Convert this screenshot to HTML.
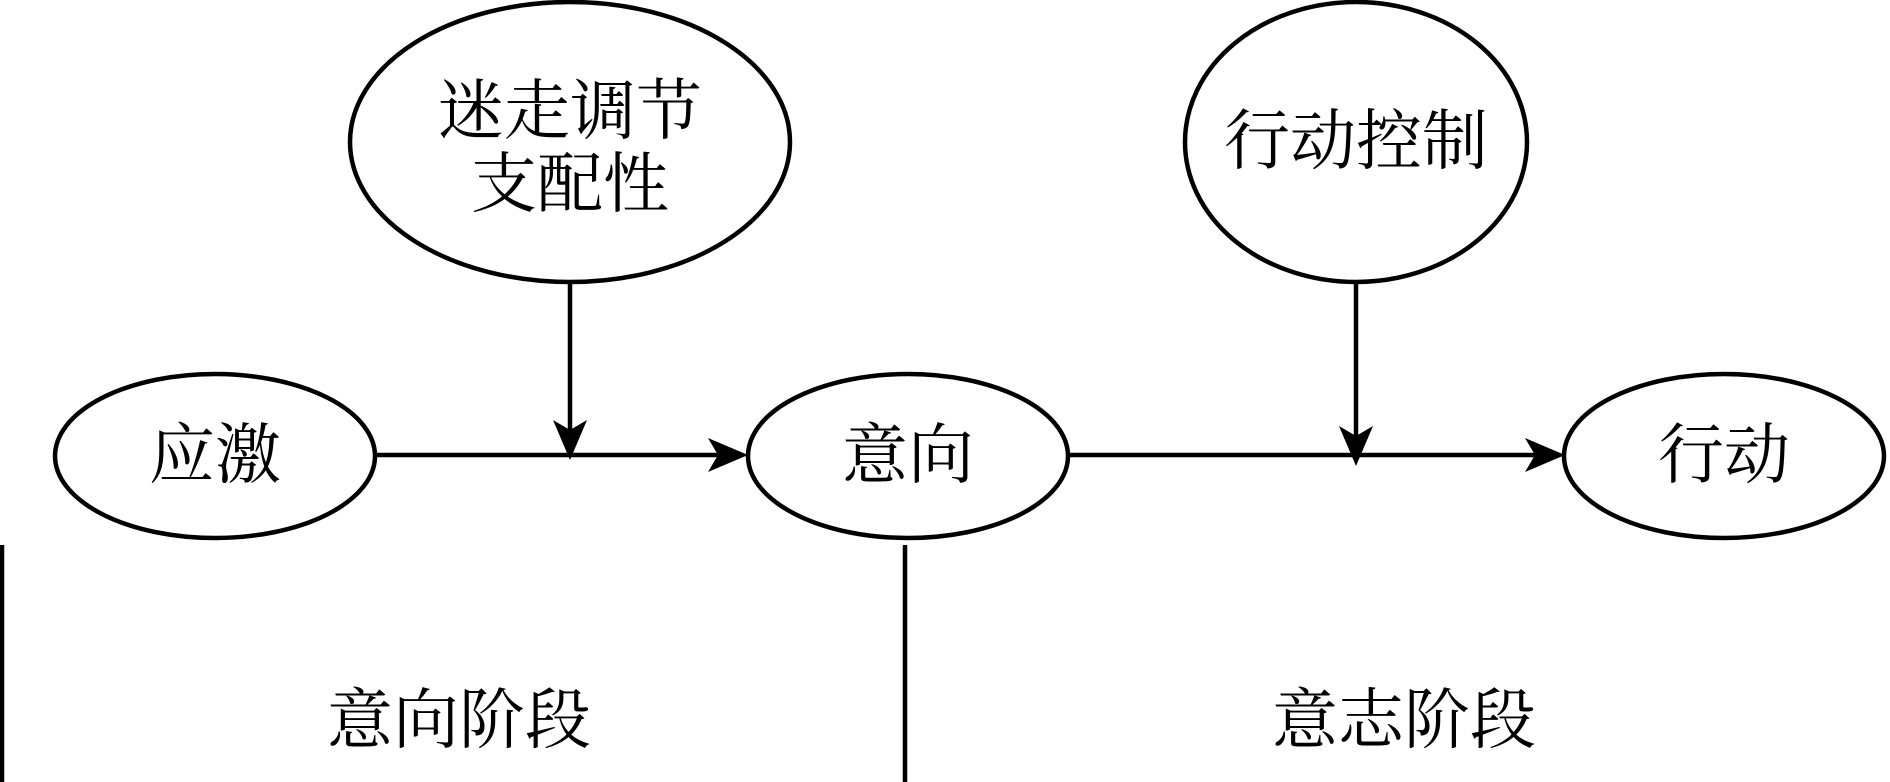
<!DOCTYPE html>
<html><head><meta charset="utf-8"><style>html,body{margin:0;padding:0;background:#fff}svg{display:block}</style></head>
<body>
<svg width="1890" height="782" viewBox="0 0 1890 782" xmlns="http://www.w3.org/2000/svg">
<g fill="none" stroke="#000" stroke-width="4.5">
<ellipse cx="570" cy="142" rx="220" ry="140"/>
<ellipse cx="1356" cy="142" rx="171" ry="140"/>
<ellipse cx="215" cy="456" rx="160" ry="82"/>
<ellipse cx="908" cy="456" rx="160" ry="82"/>
<ellipse cx="1724" cy="456" rx="160" ry="82"/>
<line x1="570" y1="282" x2="570" y2="445"/>
<line x1="1356" y1="282" x2="1356" y2="445"/>
<line x1="375" y1="455" x2="735" y2="455"/>
<line x1="1068" y1="455" x2="1550" y2="455"/>
<line x1="2" y1="545" x2="2" y2="782"/>
<line x1="905" y1="545" x2="905" y2="782"/>
</g>
<g fill="#000">
<path d="M570 460 L553 420 L570 430 L587 420 Z"/>
<path d="M1356 466 L1339 426 L1356 436 L1373 426 Z"/>
<path d="M748 455 L708 438 L718 455 L708 472 Z"/>
<path d="M1565 455 L1525 438 L1535 455 L1525 472 Z"/>
</g>
<g font-family="'Liberation Serif','Noto Serif CJK SC',serif" font-size="66" text-anchor="middle" dominant-baseline="central" fill="#000">
<text x="570" y="112">迷走调节</text>
<text x="570" y="185">支配性</text>
<text x="1356" y="142">行动控制</text>
<text x="215" y="456">应激</text>
<text x="908" y="456">意向</text>
<text x="1724" y="456">行动</text>
<text x="459" y="721">意向阶段</text>
<text x="1404" y="721">意志阶段</text>
</g>
</svg>
</body></html>
